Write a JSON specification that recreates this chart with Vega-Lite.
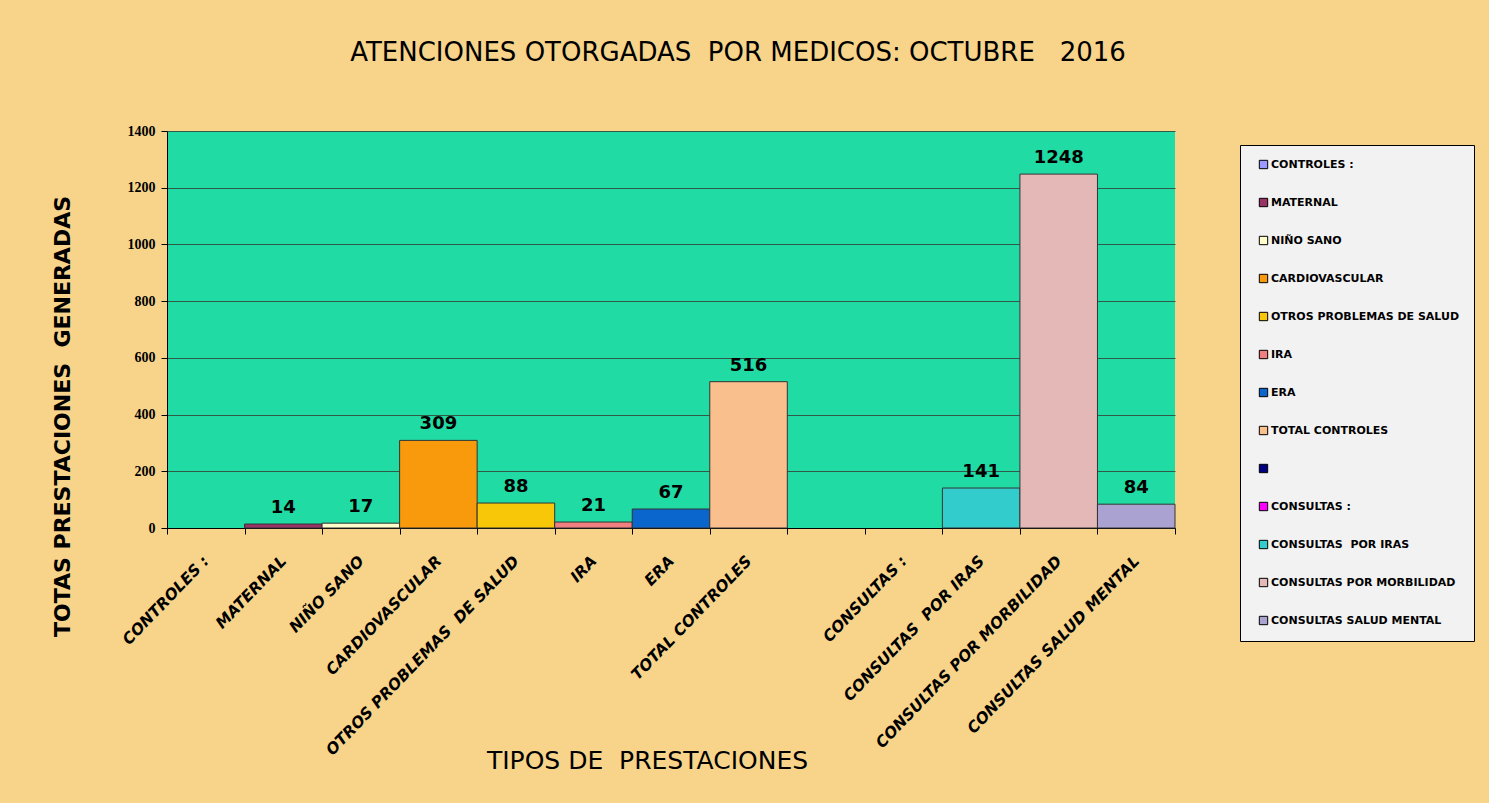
{
  "$schema": "https://vega.github.io/schema/vega-lite/v6.json",
  "autosize": {"type": "none"},
  "width": 1008,
  "height": 397,
  "padding": {"left": 167, "top": 131, "right": 314, "bottom": 275},
  "background": "#f7d48a",
  "title": {
    "text": "ATENCIONES OTORGADAS\u00a0 POR MEDICOS: OCTUBRE \u00a0 2016",
    "font": "DejaVu Sans",
    "fontSize": 26,
    "fontWeight": "normal",
    "color": "#000000",
    "anchor": "middle",
    "dx": 67,
    "offset": 58
  },
  "data": {
    "values": [
      {"tipo": "CONTROLES :", "total": null},
      {"tipo": "MATERNAL", "total": 14},
      {"tipo": "NIÑO SANO", "total": 17},
      {"tipo": "CARDIOVASCULAR", "total": 309},
      {"tipo": "OTROS PROBLEMAS\u00a0 DE SALUD", "total": 88},
      {"tipo": "IRA", "total": 21},
      {"tipo": "ERA", "total": 67},
      {"tipo": "TOTAL CONTROLES", "total": 516},
      {"tipo": " ", "total": null},
      {"tipo": "CONSULTAS :", "total": null},
      {"tipo": "CONSULTAS\u00a0 POR IRAS", "total": 141},
      {"tipo": "CONSULTAS POR MORBILIDAD", "total": 1248},
      {"tipo": "CONSULTAS SALUD MENTAL", "total": 84}
    ]
  },
  "encoding": {
    "x": {
      "field": "tipo",
      "type": "nominal",
      "sort": null,
      "scale": {
        "domain": ["CONTROLES :", "MATERNAL", "NIÑO SANO", "CARDIOVASCULAR", "OTROS PROBLEMAS\u00a0 DE SALUD", "IRA", "ERA", "TOTAL CONTROLES", " ", "CONSULTAS :", "CONSULTAS\u00a0 POR IRAS", "CONSULTAS POR MORBILIDAD", "CONSULTAS SALUD MENTAL"],
        "paddingInner": 0,
        "paddingOuter": 0
      },
      "axis": {
        "title": "TIPOS DE\u00a0 PRESTACIONES",
        "titleFont": "DejaVu Sans",
        "titleFontSize": 25,
        "titleFontWeight": "normal",
        "titleColor": "#000000",
        "titleX": 480,
        "titleY": 232,
        "titleBaseline": "middle",
        "titleAnchor": "middle",
        "labelAngle": -46,
        "labelAlign": "right",
        "labelBaseline": "middle",
        "labelFont": "DejaVu Sans",
        "labelFontSize": 15.5,
        "labelFontWeight": "bold",
        "labelFontStyle": "italic",
        "labelColor": "#000000",
        "labelPadding": 24,
        "labelLimit": 400,
        "labelOverlap": false,
        "tickBand": "extent",
        "tickSize": 6,
        "tickColor": "#000000",
        "domainColor": "#000000",
        "grid": false
      }
    },
    "y": {
      "field": "total",
      "type": "quantitative",
      "scale": {"domain": [0, 1400], "nice": false},
      "axis": {
        "title": "TOTAS PRESTACIONES\u00a0 GENERADAS",
        "titleFont": "DejaVu Sans",
        "titleFontSize": 22,
        "titleFontWeight": "bold",
        "titleColor": "#000000",
        "titleX": -105,
        "titleY": 285,
        "titleAngle": -90,
        "titleBaseline": "middle",
        "titleAnchor": "middle",
        "values": [0, 200, 400, 600, 800, 1000, 1200, 1400],
        "format": "d",
        "labelFont": "Liberation Serif",
        "labelFontSize": 14,
        "labelFontWeight": "bold",
        "labelColor": "#000000",
        "labelPadding": 6,
        "tickSize": 6,
        "tickColor": "#000000",
        "domainColor": "#000000",
        "grid": true,
        "gridColor": "#2f5a48",
        "gridWidth": 1.2,
        "gridOpacity": 1
      }
    }
  },
  "layer": [
    {
      "mark": {"type": "bar", "stroke": "#333333", "strokeWidth": 1},
      "encoding": {
        "color": {
          "field": "tipo",
          "type": "nominal",
          "scale": {
            "domain": ["CONTROLES :", "MATERNAL", "NIÑO SANO", "CARDIOVASCULAR", "OTROS PROBLEMAS\u00a0 DE SALUD", "IRA", "ERA", "TOTAL CONTROLES", " ", "CONSULTAS :", "CONSULTAS\u00a0 POR IRAS", "CONSULTAS POR MORBILIDAD", "CONSULTAS SALUD MENTAL"],
            "range": ["#9999ff", "#993366", "#ffffcc", "#f89a0c", "#f8c808", "#f08080", "#0a66cc", "#f9c08e", "#000080", "#ff00ff", "#33cccc", "#e5b8b8", "#aaa3d2"]
          },
          "legend": {
            "title": null,
            "orient": "none",
            "legendX": 1073,
            "legendY": 14,
            "fillColor": "#f2f2f2",
            "strokeColor": "#000000",
            "padding": 14,
            "rowPadding": 25,
            "symbolType": "square",
            "symbolSize": 70,
            "symbolStrokeColor": "#000000",
            "symbolStrokeWidth": 1,
            "symbolOffset": 4,
            "labelOffset": 2,
            "labelFont": "DejaVu Sans",
            "labelFontSize": 11,
            "labelFontWeight": "bold",
            "labelColor": "#000000",
            "labelLimit": 300,
            "labelExpr": "replace(datum.label, '\u00a0 DE', ' DE')"
          }
        }
      }
    },
    {
      "mark": {
        "type": "text",
        "dy": -16,
        "font": "DejaVu Sans",
        "fontSize": 18,
        "fontWeight": "bold",
        "color": "#000000"
      },
      "encoding": {
        "text": {"field": "total", "type": "quantitative"}
      }
    }
  ],
  "config": {
    "view": {"fill": "#20dca4", "stroke": null}
  }
}
